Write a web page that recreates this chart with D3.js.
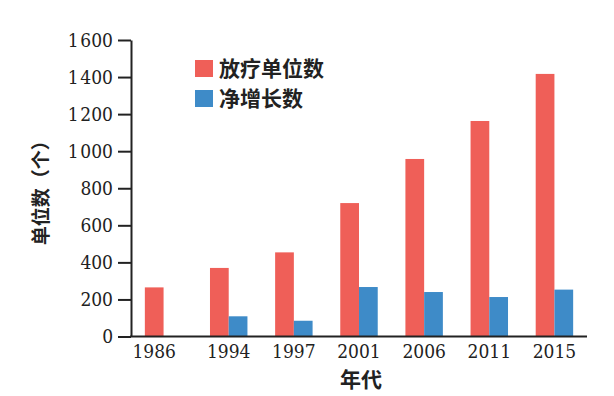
<!DOCTYPE html>
<html>
<head>
<meta charset="utf-8">
<script src="https://cdn.jsdelivr.net/npm/d3@7"></script>
<style>
  body { margin: 0; background: #fff; }
</style>
</head>
<body>
<script>
var years = ['1986', '1994', '1997', '2001', '2006', '2011', '2015'];
var units = [265, 370, 454, 720, 958, 1163, 1417];
var growth = [null, 109, 85, 267, 240, 213, 253];
var seriesNames = ['放疗单位数', '净增长数'];
var yTicks = [0, 200, 400, 600, 800, 1000, 1200, 1400, 1600];

var w = 614;
var h = 396;
var plotLeft = 131, plotRight = 587, plotTop = 40, plotBottom = 336.5;
var colors = ['#ef5f58', '#3e8bc8'];
var cjk = '"Noto Sans CJK SC", "Noto Sans", sans-serif';
var serif = '"DejaVu Serif Condensed", "DejaVu Serif", serif';

var svg = d3.select("body")
    .append("svg")
    .attr("width", w)
    .attr("height", h);

var x0 = d3.scaleBand()
    .domain(years)
    .range([plotLeft, plotRight])
    .paddingInner(0.425)
    .paddingOuter(0.2125);

var x1 = d3.scaleBand()
    .domain([0, 1])
    .range([0, x0.bandwidth()]);

var y = d3.scaleLinear()
    .domain([0, 1600])
    .range([plotBottom, plotTop]);

var rows = years.map(function(d, i) {
    return { year: d, vals: [units[i], growth[i]] };
});

// bars
var groups = svg.selectAll("g.grp")
    .data(rows)
    .enter()
    .append("g")
    .attr("class", "grp")
    .attr("transform", function(d) { return "translate(" + x0(d.year) + ",0)"; });

groups.selectAll("rect")
    .data(function(d) {
        return d.vals.map(function(v, k) { return { k: k, v: v }; })
                     .filter(function(e) { return e.v != null; });
    })
    .enter()
    .append("rect")
    .attr("x", function(d) { return x1(d.k); })
    .attr("y", function(d) { return y(d.v); })
    .attr("width", x1.bandwidth())
    .attr("height", function(d) { return y(0) - y(d.v); })
    .attr("fill", function(d) { return colors[d.k]; });

// y axis
var fmt = function(v) {
    var s = String(v);
    return s.length > 3 ? s.slice(0, s.length - 3) + "\u200a" + s.slice(-3) : s;
};

var yAxis = svg.append("g")
    .attr("transform", "translate(" + plotLeft + ",0)")
    .call(d3.axisLeft(y).tickValues(yTicks).tickFormat(fmt).tickSize(13).tickSizeOuter(0).tickPadding(5));

yAxis.select(".domain").attr("stroke", "#222").attr("stroke-width", 2);
yAxis.selectAll(".tick line").attr("stroke", "#222").attr("stroke-width", 2);
yAxis.selectAll(".tick text")
    .attr("font-family", serif)
    .attr("font-stretch", "condensed")
    .attr("font-size", "19px")
    .attr("fill", "#222");

// x axis line
svg.append("line")
    .attr("x1", plotLeft - 1)
    .attr("x2", plotRight)
    .attr("y1", y(0))
    .attr("y2", y(0))
    .attr("stroke", "#222")
    .attr("stroke-width", 2);

// year labels, centred under the bars that exist
svg.selectAll("text.year")
    .data(rows)
    .enter()
    .append("text")
    .attr("class", "year")
    .text(function(d) { return d.year; })
    .attr("text-anchor", "middle")
    .attr("x", function(d) {
        var ks = [0, 1].filter(function(k) { return d.vals[k] != null; });
        return x0(d.year) + d3.mean(ks, function(k) { return x1(k) + x1.bandwidth() / 2; });
    })
    .attr("y", 358)
    .attr("font-family", serif)
    .attr("font-stretch", "condensed")
    .attr("font-size", "19px")
    .attr("fill", "#222");

// axis titles
svg.append("text")
    .text("年代")
    .attr("text-anchor", "middle")
    .attr("x", (plotLeft + plotRight) / 2 + 2)
    .attr("y", 387)
    .attr("font-family", cjk)
    .attr("font-weight", "bold")
    .attr("font-size", "21px")
    .attr("fill", "#222");

svg.append("text")
    .text("单位数（个）")
    .attr("text-anchor", "middle")
    .attr("transform", "translate(48," + ((plotTop + plotBottom) / 2) + ") rotate(-90)")
    .attr("font-family", cjk)
    .attr("font-weight", "bold")
    .attr("font-size", "19px")
    .attr("fill", "#222");

// legend
var legend = svg.selectAll("g.legend")
    .data(seriesNames)
    .enter()
    .append("g")
    .attr("class", "legend")
    .attr("transform", function(d, i) { return "translate(195," + (60 + i * 30) + ")"; });

legend.append("rect")
    .attr("width", 18)
    .attr("height", 17)
    .attr("fill", function(d, i) { return colors[i]; });

legend.append("text")
    .text(function(d) { return d; })
    .attr("x", 24)
    .attr("y", 8.5)
    .attr("dy", "0.36em")
    .attr("font-family", cjk)
    .attr("font-weight", "bold")
    .attr("font-size", "21px")
    .attr("fill", "#222");
</script>
</body>
</html>
